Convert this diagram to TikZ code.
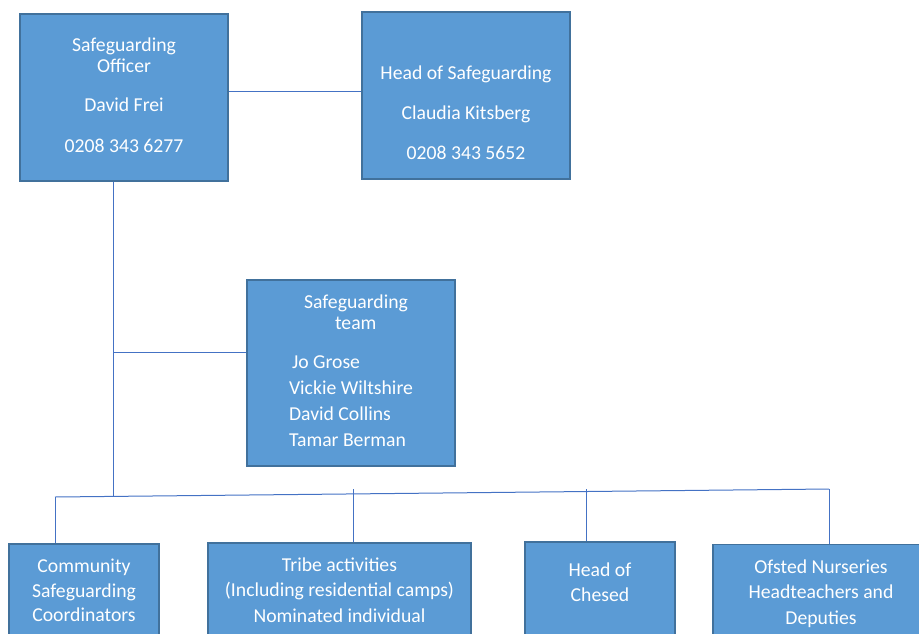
\documentclass[tikz,border=0pt]{standalone}
\usepackage{fontspec}
\setmainfont{Carlito}
\usepackage{xcolor}
\usetikzlibrary{positioning}
\definecolor{boxfill}{HTML}{5B9BD5}
\definecolor{boxline}{HTML}{41719C}
\definecolor{wireblue}{HTML}{4472C4}

\begin{document}
\begin{tikzpicture}[x=1pt, y=-1pt, box/.style={draw=boxline, fill=boxfill, line width=1.5pt, text=white, align=center, inner sep=0pt, font=\fontsize{19.7}{21}\selectfont}, wire/.style={draw=wireblue, line width=1pt}]
	\useasboundingbox (0,0) rectangle (919,633);
	\clip (0,0) rectangle (919,633);

	% top row
	\node ({officer}) [box, minimum width=208pt, minimum height=167pt] at (124,97.5) {Safeguarding\\Officer\\[18pt]David Frei\\[20pt]0208 343 6277\\[-17pt]\mbox{}};
	\node ({head}) [box, minimum width=208pt, minimum height=167pt] at (466,95.5) {\mbox{}\\[27pt]Head of Safeguarding\\[19pt]Claudia Kitsberg\\[19pt]0208 343 5652};
	\node ({team}) [box, minimum width=208pt, minimum height=186pt] at (351,373) {\begin{tabular}{@{}l@{}}\hspace*{15pt}Safeguarding\\\hspace*{46pt}team\\[18pt]\hspace*{3pt}Jo Grose\\[5pt]Vickie Wiltshire\\[5pt]David Collins\\[5pt]Tamar Berman\end{tabular}};

	% bottom row, cut off by the clip
	\node ({community}) [box, minimum width=150pt, minimum height=93pt] at (84,590.5) {Community\\[4pt]Safeguarding\\[3pt]Coordinators};
	\node ({tribe}) [box, minimum width=263pt, minimum height=95pt] at (339.5,590.5) {Tribe activities\\[4pt](Including residential camps)\\[5pt]Nominated individual};
	\node ({chesed}) [box, minimum width=150pt, minimum height=106pt] at (600,595) {Head of\\[4pt]Chesed\\[-2pt]\strut};
	\node ({ofsted}) [box, minimum width=216pt, minimum height=99pt] at (821,594) {Ofsted Nurseries\\[4pt]Headteachers and\\[5pt]Deputies};

	\coordinate (trunk) at (113,496);
	\coordinate (tap) at (113,352);
	\coordinate (busL) at (55,497);
	\coordinate (busR) at (829,489);
	\coordinate (tribeTop) at (353,489);
	\coordinate (chesedTop) at (586,489);

	\draw[wire] ([yshift=6.5pt]officer.east) -- ([yshift=6.5pt]officer.east -| head.west);
	\draw[wire] (officer.south -| trunk) -- (trunk);
	\draw[wire] (tap) -- (tap -| team.west);
	\draw[wire] (busL) -- (busR);
	\draw[wire] (busL) -- (busL |- community.north);
	\draw[wire] (tribeTop) -- (tribeTop |- tribe.north);
	\draw[wire] (chesedTop) -- (chesedTop |- chesed.north);
	\draw[wire] (busR) -- (busR |- ofsted.north);
	%\draw[wire] (trunk) -- (busL);
\end{tikzpicture}
\end{document}
